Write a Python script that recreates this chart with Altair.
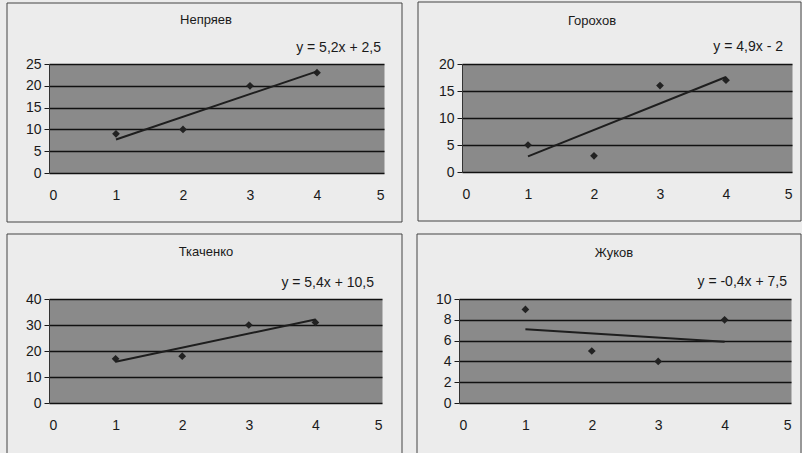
import altair as alt
import pandas as pd

# Test number (x) and score (y) for each student
test_no = [1, 2, 3, 4]
students = ["Непряев", "Горохов", "Ткаченко", "Жуков"]
nepryaev = [9, 10, 20, 23]
gorokhov = [5, 3, 16, 17]
tkachenko = [17, 18, 30, 31]
zhukov = [9, 5, 4, 8]
equations = ["y = 5,2x + 2,5", "y = 4,9x - 2", "y = 5,4x + 10,5", "y = -0,4x + 7,5"]
y_max = [25, 20, 40, 10]
y_step = [5, 5, 10, 2]
x_ticks = [0, 1, 2, 3, 4, 5]

FONT = "Liberation Sans"
INK = "#1a1a1a"
PAGE = "#ececec"
PLOT = "#8a8a8a"

# plot size, frame box (relative to plot area), title centre, equation right edge
geometry = [
    dict(w=335, h=109, frame=(-42, -61, 353, 158), title=(157, -44), eq=(332, -16), open_bottom=False),
    dict(w=330, h=108, frame=(-44, -62, 339, 157), title=(130, -43), eq=(321, -17), open_bottom=False),
    dict(w=333, h=104, frame=(-42, -65, 353, 154), title=(157, -47), eq=(325, -16), open_bottom=True),
    dict(w=332, h=104, frame=(-42, -65, 342, 154), title=(155, -46), eq=(328, -17), open_bottom=True),
]

one_row = pd.DataFrame({"k": [0]})


def panel(name, scores, eq_text, ymax, ystep, g):
    df = pd.DataFrame({"x": test_no, "y": scores})
    xs = alt.Scale(domain=[0, 5], nice=False, zero=False)
    ys = alt.Scale(domain=[0, ymax], nice=False)
    x_axis = alt.Axis(values=x_ticks, format="d", grid=False, ticks=False, domain=False, title=None,
                      labelPadding=15, labelFontSize=14, labelFont=FONT, labelColor=INK)
    y_axis = alt.Axis(values=list(range(0, ymax + 1, ystep)), format="d", grid=True,
                      gridColor="#111111", gridWidth=1.3, tickSize=5, tickColor=INK, domain=True,
                      domainColor="#333333", title=None, labelPadding=3, labelFontSize=14,
                      labelFont=FONT, labelColor=INK, labelOverlap=False)
    x_enc = alt.X("x:Q", scale=xs, axis=x_axis)
    y_enc = alt.Y("y:Q", scale=ys, axis=y_axis)
    base = alt.Chart(df)
    points = base.mark_point(shape="diamond", filled=True, size=60, color="#222222", opacity=1).encode(
        x=x_enc, y=y_enc)
    trend = base.transform_regression("x", "y", extent=[1, 4]).mark_line(
        color="#1e1e1e", strokeWidth=2).encode(x=x_enc, y=y_enc)

    fx1, fy1, fx2, fy2 = g["frame"]
    layers = []
    if g["open_bottom"]:
        layers.append(alt.Chart(one_row).mark_rect(fill="transparent").encode(
            x=alt.value(fx1), x2=alt.value(fx2), y=alt.value(fy1), y2=alt.value(fy2)))
        for seg in [(fx1, fx1, fy1, fy2), (fx2, fx2, fy1, fy2), (fx1, fx2, fy1, fy1)]:
            layers.append(alt.Chart(one_row).mark_rule(color="#444444", strokeWidth=1).encode(
                x=alt.value(seg[0]), x2=alt.value(seg[1]), y=alt.value(seg[2]), y2=alt.value(seg[3])))
    else:
        layers.append(alt.Chart(one_row).mark_rect(fill="transparent", stroke="#444444", strokeWidth=1).encode(
            x=alt.value(fx1), x2=alt.value(fx2), y=alt.value(fy1), y2=alt.value(fy2)))

    title = alt.Chart(one_row).mark_text(font=FONT, fontSize=13, color=INK, align="center",
                                         baseline="middle").encode(
        x=alt.value(g["title"][0]), y=alt.value(g["title"][1]), text=alt.value(name))
    eq = alt.Chart(one_row).mark_text(font=FONT, fontSize=14, color=INK, align="right",
                                      baseline="middle").encode(
        x=alt.value(g["eq"][0]), y=alt.value(g["eq"][1]), text=alt.value(eq_text))

    return alt.layer(*layers, points, trend, title, eq).properties(width=g["w"], height=g["h"])


series = [nepryaev, gorokhov, tkachenko, zhukov]
panels = [panel(students[i], series[i], equations[i], y_max[i], y_step[i], geometry[i]) for i in range(4)]

chart = alt.vconcat(
    alt.hconcat(panels[0], panels[1], spacing=14),
    alt.hconcat(panels[2], panels[3], spacing=13),
    spacing=10,
).properties(
    padding={"left": 6, "top": 1, "right": 0, "bottom": 0},
    background=PAGE,
).configure_view(fill=PLOT, stroke="transparent")

chart.save("out.html", embed_options={"renderer": "svg", "actions": False})
